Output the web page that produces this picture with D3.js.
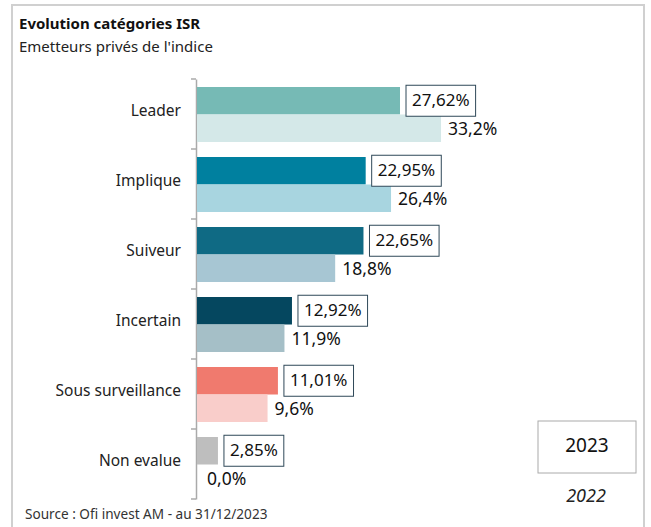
<!DOCTYPE html>
<html><head><meta charset="utf-8">
<script src="https://cdn.jsdelivr.net/npm/d3@7"></script>
<style>body{margin:0;background:#fff;} svg{display:block;font-family:"Noto Sans","Open Sans",sans-serif;}</style>
</head><body>
<script>
const categories = ["Leader","Implique","Suiveur","Incertain","Sous surveillance","Non evalue"];
const values2023 = [27.62, 22.95, 22.65, 12.92, 11.01, 2.85];
const values2022 = [33.2, 26.4, 18.8, 11.9, 9.6, 0.0];
const labels2023 = ["27,62%","22,95%","22,65%","12,92%","11,01%","2,85%"];
const labels2022 = ["33,2%","26,4%","18,8%","11,9%","9,6%","0,0%"];
const years = ["2023","2022"];
const colors2023 = ["#76bab5","#00809f","#0f6a84","#05475f","#f07a6e","#bebebe"];
const colors2022 = ["#d4e8e8","#a8d5e0","#a7c6d3","#a5bfc7","#f9cdca","#e0e0e0"];

const W = 651, H = 527;
const svg = d3.select("body").append("svg").attr("width", W).attr("height", H);

// card frame
svg.append("path").attr("d", "M12,527 L12,5 L644,5 L644,527")
  .attr("fill","none").attr("stroke","#d0d0d0").attr("stroke-width",2);

svg.append("text").attr("x",19).attr("y",29).attr("font-size",15).attr("font-weight",700)
  .attr("fill","#111").text("Evolution catégories ISR");
svg.append("text").attr("x",19).attr("y",52).attr("font-size",15)
  .attr("fill","#222").text("Emetteurs privés de l'indice");

const y = d3.scaleBand().domain(categories).range([79, 499]).paddingInner(0).paddingOuter(0);
const ySub = d3.scaleBand().domain(years).range([8, 63]);
const x = d3.scaleLinear().domain([0, 40]).range([197, 491]);

// axis
const axis = d3.axisLeft(y).tickSize(0).tickFormat("");
const gAxis = svg.append("g").attr("transform","translate(196,0)").call(axis);
gAxis.select(".domain").attr("stroke","#aaa").attr("stroke-width",1.5);
const bounds = categories.map(c => y(c)).concat([y.range()[1]]);
svg.append("g").selectAll("line").data(bounds).join("line")
  .attr("x1",191).attr("x2",196).attr("y1",d=>d).attr("y2",d=>d)
  .attr("stroke","#aaa").attr("stroke-width",1.5);

// category labels
svg.append("g").selectAll("text").data(categories).join("text")
  .attr("x",181).attr("y",d=>y(d)+y.bandwidth()/2 - 2)
  .attr("text-anchor","end").attr("dominant-baseline","middle")
  .attr("font-size",15.5).attr("fill","#222").text(d=>d);

const g = svg.append("g").selectAll("g").data(categories).join("g")
  .attr("transform", d=>`translate(0,${y(d)})`);

// 2023 bars
g.append("rect").attr("x",x(0)).attr("y",ySub("2023"))
  .attr("width",(d,i)=>x(values2023[i])-x(0)).attr("height",ySub.bandwidth())
  .attr("fill",(d,i)=>colors2023[i]);
// 2022 bars
g.append("rect").attr("x",x(0)).attr("y",ySub("2022"))
  .attr("width",(d,i)=>x(values2022[i])-x(0)).attr("height",ySub.bandwidth())
  .attr("fill",(d,i)=>colors2022[i]);

// 2023 boxed labels
g.each(function(d,i){
  const sel = d3.select(this);
  const bx = x(values2023[i]) + 6;
  const cy = ySub("2023") + ySub.bandwidth()/2;
  const rect = sel.append("rect");
  const t = sel.append("text").attr("x", bx+6).attr("y", cy+1)
    .attr("dominant-baseline","middle").attr("font-size",17).attr("fill","#111")
    .text(labels2023[i]);
  const w = t.node().getComputedTextLength();
  rect.attr("x",bx).attr("y",cy-15.5).attr("width",w+12).attr("height",31)
    .attr("fill","#fff").attr("stroke","#2f4858").attr("stroke-width",1);
});

// 2022 labels
g.append("text").attr("x",(d,i)=>x(values2022[i]) + (values2022[i]===0 ? 10 : 7))
  .attr("y", ySub("2022") + ySub.bandwidth()/2 + 2)
  .attr("dominant-baseline","middle").attr("font-size",17.5).attr("fill","#111")
  .text((d,i)=>labels2022[i]);

// legend
svg.append("rect").attr("x",538).attr("y",421).attr("width",98).attr("height",52)
  .attr("fill","#fff").attr("stroke","#aaa").attr("stroke-width",1);
svg.append("text").attr("x",587).attr("y",447).attr("text-anchor","middle")
  .attr("dominant-baseline","middle").attr("font-size",19).attr("fill","#111").text(years[0]);
svg.append("text").attr("x",586).attr("y",497).attr("text-anchor","middle")
  .attr("dominant-baseline","middle").attr("font-size",18).attr("font-style","italic")
  .attr("fill","#222").text(years[1]);

svg.append("text").attr("x",25).attr("y",519).attr("font-size",13.6).attr("fill","#333")
  .text("Source : Ofi invest AM - au 31/12/2023");
</script>
</body></html>
